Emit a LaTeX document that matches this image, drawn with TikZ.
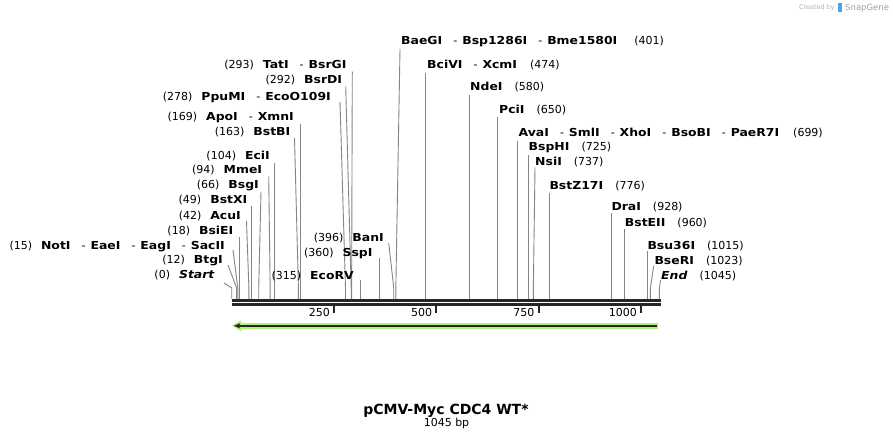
\documentclass[tikz,border=0pt]{standalone}
\usepackage{fontspec}
\setmainfont{DejaVu Sans}[BoldFeatures={FakeStretch=1.13},BoldItalicFeatures={FakeStretch=1.13}]
\newfontfamily\titlefam{DejaVu Sans}
\usetikzlibrary{arrows.meta}
\definecolor{cutgray}{HTML}{858585}
\definecolor{bargray}{HTML}{262626}
\definecolor{featgreen}{HTML}{B2F07C}
\definecolor{logoblue}{HTML}{4AA3E8}
\definecolor{logogray}{HTML}{B4B4B4}

\newcommand{\enz}[1]{\textbf{#1}}
\newcommand{\sepr}{\hspace{11pt}-\hspace{5pt}}

\begin{document}
\begin{tikzpicture}[x=1pt,y=-1pt,>=latex,
    lbl/.style={inner sep=0pt,font=\fontsize{11}{13}\selectfont},
    cut/.style={draw=cutgray,line width=0.9pt},
    seqbar/.style={draw=bargray,line width=2.7pt},
    tickmark/.style={draw=bargray,line width=2pt}]
    \useasboundingbox[fill=white] (0,0) rectangle (893,438);

    % sites on the sequence, 0..1045 bp
    \foreach \p in {0,12,15,18,42,49,66,94,104,163,169,278,292,293,315,360,396,401,474,580,650,699,725,737,776,928,960,1015,1023,1045}
        \coordinate (s\p) at ({231.7+0.4093*\p},299);

    \draw[seqbar] (232,300.3) -- (661,300.3);
    \draw[seqbar] (232,304.7) -- (661,304.7);

    \foreach \t in {250,500,750,1000} {
        \coordinate (k\t) at ({231.7+0.4093*\t},305);
        \draw[tickmark] (k\t) -- ++(0,8);
        \node[lbl,anchor=base east] (t\t) at ([xshift=-4pt,yshift=-11pt]k\t) {\t};
    }

    % left hand labels
    \node[lbl,anchor=base east] (start) at (215,278) {(0)\hspace{9pt}\textbf{\textit{Start}}};
    \draw[cut] (start.base east) ++(9,5) -- ([yshift=11pt]s0) -- (s0);
    \node[lbl,anchor=base east] (btgi) at (223,263) {(12)\hspace{9pt}\enz{BtgI}};
    \draw[cut] (btgi.base east) ++(5,2) -- ([yshift=11pt]s12) -- (s12);
    \node[lbl,anchor=base east] (noti) at (225,249) {(15)\hspace{9pt}\enz{NotI}\sepr\enz{EaeI}\sepr\enz{EagI}\sepr\enz{SacII}};
    \draw[cut] (noti.base east) ++(8,1) -- ([yshift=11pt]s15) -- (s15);
    \node[lbl,anchor=base east] (bsiei) at (233.5,234) {(18)\hspace{9pt}\enz{BsiEI}};
    \draw[cut] (s18 |- bsiei.base) ++(0,2.5) -- (s18);
    \node[lbl,anchor=base east] (acui) at (241,219) {(42)\hspace{9pt}\enz{AcuI}};
    \draw[cut] (acui.base east) ++(5.5,2) -- ([yshift=11pt]s42) -- (s42);
    \node[lbl,anchor=base east] (bstxi) at (247.5,203.3) {(49)\hspace{9pt}\enz{BstXI}};
    \draw[cut] (s49 |- bstxi.base) ++(0,3) -- (s49);
    \node[lbl,anchor=base east] (bsgi) at (259,188.7) {(66)\hspace{9pt}\enz{BsgI}};
    \draw[cut] (bsgi.base east) ++(2,3) -- ([yshift=11pt]s66) -- (s66);
    \node[lbl,anchor=base east] (mmei) at (262.3,174) {(94)\hspace{9pt}\enz{MmeI}};
    \draw[cut] (mmei.base east) ++(6.4,2.5) -- ([yshift=11pt]s94) -- (s94);
    \node[lbl,anchor=base east] (ecii) at (270,160) {(104)\hspace{9pt}\enz{EciI}};
    \draw[cut] (s104 |- ecii.base) ++(0,3) -- (s104);
    \node[lbl,anchor=base east] (bstbi) at (290.5,135.7) {(163)\hspace{9pt}\enz{BstBI}};
    \draw[cut] (bstbi.base east) ++(4,2.3) -- ([yshift=11pt]s163) -- (s163);
    \node[lbl,anchor=base east] (apoi) at (294,120.7) {(169)\hspace{9pt}\enz{ApoI}\sepr\enz{XmnI}};
    \draw[cut] (s169 |- apoi.base) ++(0,3.3) -- (s169);
    \node[lbl,anchor=base east] (ppumi) at (331,100.7) {(278)\hspace{9pt}\enz{PpuMI}\sepr\enz{EcoO109I}};
    \draw[cut] (ppumi.base east) ++(9,1) -- ([yshift=11pt]s278) -- (s278);
    \node[lbl,anchor=base east] (bsrdi) at (342.3,84) {(292)\hspace{9pt}\enz{BsrDI}};
    \draw[cut] (bsrdi.base east) ++(3.4,2.7) -- ([yshift=11pt]s292) -- (s292);
    \node[lbl,anchor=base east] (tati) at (346.7,68.7) {(293)\hspace{9pt}\enz{TatI}\sepr\enz{BsrGI}};
    \draw[cut] (tati.base east) ++(5.6,3) -- ([yshift=11pt]s293) -- (s293);
    \node[lbl,anchor=base east] (ecorv) at (354,279) {(315)\hspace{9pt}\enz{EcoRV}};
    \draw[cut] (s315 |- ecorv.base) ++(0,1) -- (s315);
    \node[lbl,anchor=base east] (sspi) at (372.7,256) {(360)\hspace{9pt}\enz{SspI}};
    \draw[cut] (s360 |- sspi.base) ++(0,2.3) -- (s360);
    \node[lbl,anchor=base east] (bani) at (384,241.7) {(396)\hspace{9pt}\enz{BanI}};
    \draw[cut] (bani.base east) ++(4.7,1.3) -- ([yshift=11pt]s396) -- (s396);

    % right hand labels
    \node[lbl,anchor=base west] (baegi) at (401,45) {\enz{BaeGI}\sepr\enz{Bsp1286I}\sepr\enz{Bme1580I}\hspace{17pt}(401)};
    \draw[cut] (baegi.base west) ++(-1,4) -- ([yshift=11pt]s401) -- (s401);
    \node[lbl,anchor=base west] (bcivi) at (427,69) {\enz{BciVI}\sepr\enz{XcmI}\hspace{13pt}(474)};
    \draw[cut] (s474 |- bcivi.base) ++(0,3.7) -- (s474);
    \node[lbl,anchor=base west] (ndei) at (470,91) {\enz{NdeI}\hspace{12pt}(580)};
    \draw[cut] (s580 |- ndei.base) ++(0,4) -- (s580);
    \node[lbl,anchor=base west] (pcii) at (499,114) {\enz{PciI}\hspace{12pt}(650)};
    \draw[cut] (s650 |- pcii.base) ++(0,3.3) -- (s650);
    \node[lbl,anchor=base west] (avai) at (518.5,136.7) {\enz{AvaI}\sepr\enz{SmlI}\sepr\enz{XhoI}\sepr\enz{BsoBI}\sepr\enz{PaeR7I}\hspace{14pt}(699)};
    \draw[cut] (s699 |- avai.base) ++(0,4) -- (s699);
    \node[lbl,anchor=base west] (bsphi) at (528.5,150.7) {\enz{BspHI}\hspace{12pt}(725)};
    \draw[cut] (s725 |- bsphi.base) ++(0,4.3) -- (s725);
    \node[lbl,anchor=base west] (nsii) at (535,166) {\enz{NsiI}\hspace{12pt}(737)};
    \draw[cut] (nsii.base west) ++(0,1.5) -- ([yshift=11pt]s737) -- (s737);
    \node[lbl,anchor=base west] (bstz) at (549.3,190) {\enz{BstZ17I}\hspace{12pt}(776)};
    \draw[cut] (s776 |- bstz.base) ++(0,3) -- (s776);
    \node[lbl,anchor=base west] (drai) at (611.3,211) {\enz{DraI}\hspace{12pt}(928)};
    \draw[cut] (s928 |- drai.base) ++(0,2) -- (s928);
    \node[lbl,anchor=base west] (bsteii) at (624.7,226) {\enz{BstEII}\hspace{12pt}(960)};
    \draw[cut] (s960 |- bsteii.base) ++(0,2.7) -- (s960);
    \node[lbl,anchor=base west] (bsu) at (647.3,249.3) {\enz{Bsu36I}\hspace{12pt}(1015)};
    \draw[cut] (s1015 |- bsu.base) ++(0,1.7) -- (s1015);
    \node[lbl,anchor=base west] (bseri) at (654.3,264) {\enz{BseRI}\hspace{12pt}(1023)};
    \draw[cut] (bseri.base west) ++(-0.6,2) -- ([yshift=11pt]s1023) -- (s1023);
    \node[lbl,anchor=base west] (end) at (661,279) {\textbf{\textit{End}}\hspace{12pt}(1045)};
    \draw[cut] (end.base west) ++(-0.5,1) -- ([yshift=11pt]s1045) -- (s1045);

    % feature arrow
    \coordinate (fR) at (657.7,325.8);
    \coordinate (fL) at (232,325.8);
    \fill[featgreen] (fR) ++(0,-2.7) rectangle (239,328.5);
    \fill[featgreen] (fL) -- ++(9,-5.5) -- ++(0,11) -- cycle;
    \draw[bargray,line width=1.7pt,-{Latex[length=6.5pt,width=5.5pt]}] ([xshift=-1pt]fR) -- ([xshift=1.2pt]fL);

    \node[anchor=base,font=\titlefam\bfseries\fontsize{14}{16}\selectfont] (title) at (446,414) {pCMV-Myc CDC4 WT*};
    \node[lbl,anchor=base] (len) at (446.5,426) {1045 bp};

    \node[anchor=east,inner sep=0pt,text=logogray,font=\fontsize{6.5}{8}\selectfont] (created) at (835,8) {Created by};
    \fill[logoblue] (838,3.5) rectangle (842,12.5);
    \node[anchor=west,inner sep=0pt,text=logogray!90!black,font=\fontsize{8.5}{10}\selectfont] (snap) at (845,8) {SnapGene};
\end{tikzpicture}
\end{document}
